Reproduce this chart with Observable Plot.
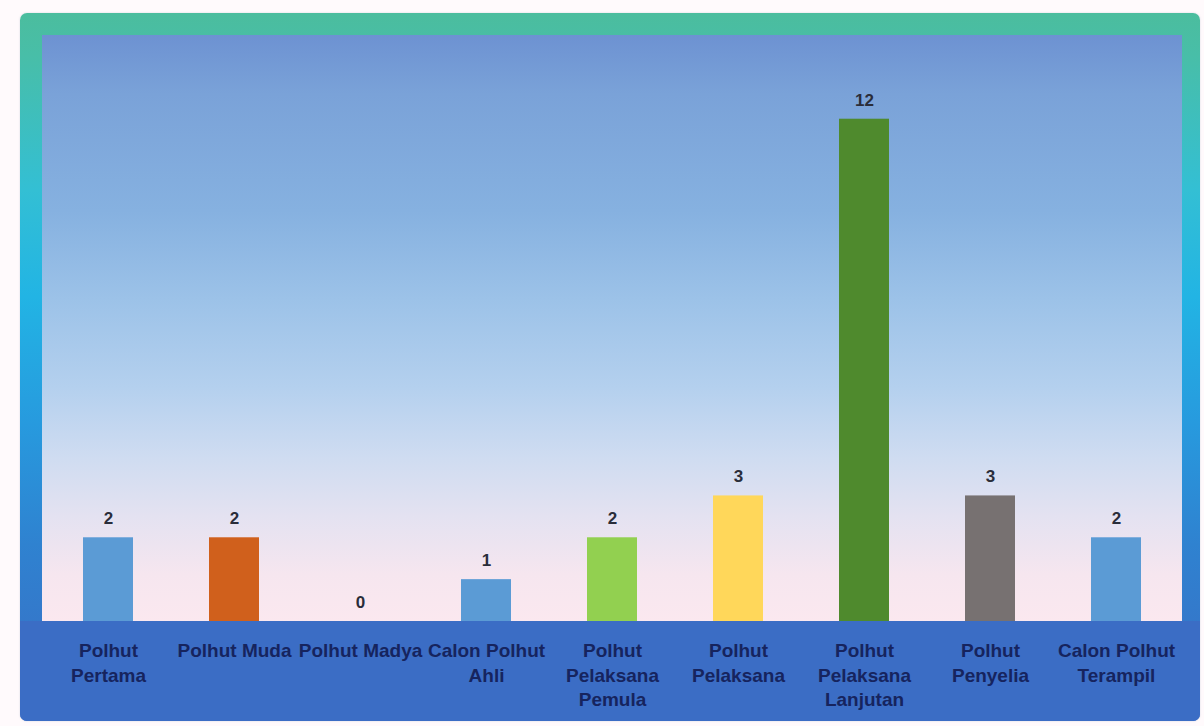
<!DOCTYPE html>
<html>
<head>
<meta charset="utf-8">
<script src="https://cdn.jsdelivr.net/npm/d3@7"></script>
<script src="https://cdn.jsdelivr.net/npm/@observablehq/plot@0.6"></script>
<style>
  html, body { margin: 0; padding: 0; background: #fffafc; }
  #wrap { position: relative; width: 1204px; height: 726px; overflow: hidden; }
  #frame {
    position: absolute; left: 20px; top: 13px; width: 1180px; height: 708px;
    border-radius: 7px;
    background: linear-gradient(to bottom, #4bbd9e 0%, #48bea8 6%, #33bfd4 25%, #22b4e4 40%, #279ade 58%, #2f82d0 75%, #3a6dc4 100%);
    box-shadow: 0 0 2px rgba(120,140,170,0.35);
  }
  #inner {
    position: absolute; left: 42px; top: 35px; width: 1140px; height: 587px;
    background: linear-gradient(to bottom, #6d92d2 0%, #7aa2d8 10%, #86b1e0 30%, #9cc2e8 45%, #b4d0ee 60%, #cfdcf1 72%, #e4e2f1 82%, #f6e6ef 92%, #fbe8ef 100%);
  }
  #band {
    position: absolute; left: 20px; top: 621px; width: 1180px; height: 100px;
    background: #3b6dc5; border-radius: 0 0 7px 7px;
  }
  #chart { position: absolute; left: 0; top: 0; }
</style>
</head>
<body>
<div id="wrap">
  <div id="frame"></div>
  <div id="inner"></div>
  <div id="band"></div>
  <div id="chart"></div>
</div>
<script>
const categories = ["Polhut Pertama", "Polhut Muda", "Polhut Madya", "Calon Polhut Ahli", "Polhut Pelaksana Pemula", "Polhut Pelaksana", "Polhut Pelaksana Lanjutan", "Polhut Penyelia", "Calon Polhut Terampil"];
const values = [2, 2, 0, 1, 2, 3, 12, 3, 2];
const barColors = ["#5b9bd5", "#d0601c", "#a5a5a5", "#5b9bd5", "#92d050", "#ffd75a", "#4f8a2d", "#777171", "#5b9bd5"];
const tickLabels = ["Polhut\nPertama", "Polhut Muda", "Polhut Madya", "Calon Polhut\nAhli", "Polhut\nPelaksana\nPemula", "Polhut\nPelaksana", "Polhut\nPelaksana\nLanjutan", "Polhut\nPenyelia", "Calon Polhut\nTerampil"];

const data = categories.map((c, i) => ({category: c, value: values[i], color: barColors[i]}));
const labelMap = new Map(categories.map((c, i) => [c, tickLabels[i]]));

const chart = Plot.plot({
  width: 1204,
  height: 726,
  marginLeft: 42,
  marginRight: 22,
  marginTop: 35,
  marginBottom: 105,
  style: {background: "transparent", fontFamily: "'Liberation Sans', Arial, sans-serif", overflow: "visible"},
  x: {domain: categories, paddingInner: 0.6, paddingOuter: 0.3, axis: null},
  y: {domain: [0, 14], axis: null},
  color: {type: "identity"},
  marks: [
    Plot.barY(data, {x: "category", y: "value", fill: "color"}),
    Plot.text(data, {x: "category", y: "value", text: d => String(d.value), dy: -19, fontSize: 17, fontWeight: "bold", fill: "#2a2d3a"}),
    Plot.axisX({
      label: null,
      tickSize: 0,
      tickPadding: 18,
      tickFormat: d => labelMap.get(d),
      fontSize: 19,
      fontWeight: 600,
      lineHeight: 1.3,
      fill: "#16245e",
      stroke: null
    })
  ]
});
document.getElementById("chart").appendChild(chart);
</script>
</body>
</html>
